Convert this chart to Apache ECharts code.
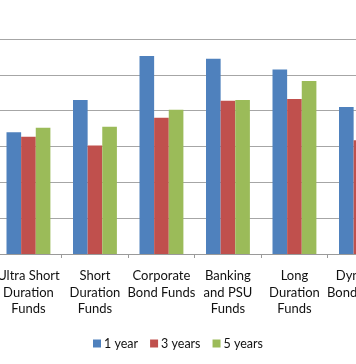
<!DOCTYPE html>
<html><head><meta charset="utf-8">
<script src="https://cdn.jsdelivr.net/npm/echarts@6/dist/echarts.min.js"></script>
<style>html,body{margin:0;padding:0;overflow:hidden;background:#fff;width:356px;height:364px;position:relative}
#c{position:absolute;left:-50px;top:0;width:500px;height:364px}</style>
</head><body><div id="c"></div>
<script>
const categories = ["Ultra Short\nDuration\nFunds","Short\nDuration\nFunds","Corporate\nBond Funds","Banking\nand PSU\nFunds","Long\nDuration\nFunds","Dynamic\nBond Funds"];
const seriesNames = ["1 year","3 years","5 years"];
const oneYear = [6.8, 8.6, 11.05, 10.9, 10.3, 8.2];
const threeYears = [6.55, 6.05, 7.6, 8.55, 8.65, 6.35];
const fiveYears = [7.05, 7.1, 8.05, 8.6, 9.65, 7.2];
const yTicks = {min:0, max:12, interval:2};
const colors = ["#4F81BD","#C0504D","#9BBB59"];
const font = "Lato, 'Liberation Sans', sans-serif";
const chart = echarts.init(document.getElementById('c'), null, {renderer:'canvas'});
const mk = (name, data, i) => ({name, type:'bar', data, barGap:'0%', barCategoryGap:'34%',
  itemStyle:{color:colors[i]}, animation:false});
chart.setOption({
  animation:false,
  textStyle:{fontFamily:font},
  grid:{left:45.2, right:55.8, top:39, bottom:110, containLabel:false},
  legend:{left:143, top:337, padding:0, itemWidth:8, itemHeight:8, itemGap:12,
    icon:'rect', textStyle:{fontFamily:font, fontSize:12.5, color:'#111', padding:[0,0,0,-2]},
    data:seriesNames},
  xAxis:{type:'category', data:categories,
    axisLine:{lineStyle:{color:'#9a9a9a', width:1}},
    axisTick:{show:true, length:4, lineStyle:{color:'#9a9a9a'}},
    axisLabel:{interval:0, margin:14, fontFamily:font, fontSize:13, lineHeight:16.3, color:'#111'}},
  yAxis:{type:'value', min:yTicks.min, max:yTicks.max, interval:yTicks.interval,
    axisLabel:{show:false}, axisLine:{show:false}, axisTick:{show:false},
    splitLine:{lineStyle:{color:'#a6a6a6', width:1}}},
  series:[mk(seriesNames[0], oneYear,0), mk(seriesNames[1], threeYears,1), mk(seriesNames[2], fiveYears,2)]
});
</script></body></html>
